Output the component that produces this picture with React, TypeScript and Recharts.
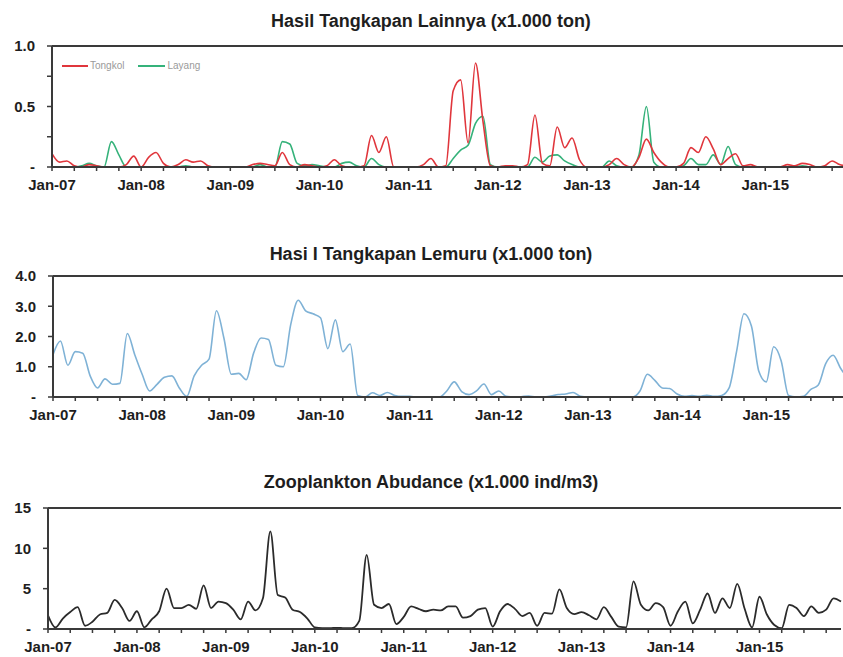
import { LineChart, Line, XAxis, YAxis, ReferenceLine } from 'recharts';

// monthly values, Jan-07 .. Dec-15
const years = ['07', '08', '09', '10', '11', '12', '13', '14', '15'];

const tongkol = [
  0.11, 0.04, 0.05, 0.01, 0, 0.02, 0.01, 0, 0, 0, 0.02, 0.09,
  0, 0.08, 0.12, 0.03, 0, 0.02, 0.06, 0.04, 0.05, 0.01, 0, 0,
  0, 0, 0, 0.02, 0.03, 0.02, 0.01, 0.12, 0.02, 0, 0.02, 0.01,
  0, 0.01, 0.06, 0.01, 0, 0, 0.01, 0.26, 0.12, 0.25, 0, 0,
  0, 0, 0.02, 0.07, 0, 0.01, 0.63, 0.72, 0.2, 0.86, 0.38, 0.01,
  0, 0.01, 0.01, 0, 0.02, 0.43, 0.03, 0.01, 0.33, 0.16, 0.24, 0.06,
  0, 0, 0, 0.02, 0.07, 0.02, 0, 0.08, 0.23, 0.12, 0.04, 0,
  0, 0.03, 0.16, 0.12, 0.25, 0.15, 0.02, 0.07, 0.11, 0.01, 0.02, 0,
  0, 0, 0, 0.02, 0.01, 0.03, 0.02, 0, 0.01, 0.05, 0.02, 0.01,
];

const layang = [
  0, 0, 0, 0, 0.01, 0.03, 0.01, 0, 0.21, 0.1, 0, 0,
  0, 0, 0, 0, 0, 0, 0.01, 0, 0, 0, 0, 0,
  0, 0, 0, 0, 0.02, 0, 0, 0.21, 0.19, 0.03, 0.01, 0.02,
  0.01, 0, 0, 0.03, 0.04, 0.01, 0, 0.07, 0.02, 0, 0, 0,
  0, 0, 0, 0, 0, 0, 0.07, 0.14, 0.18, 0.36, 0.42, 0.02,
  0, 0, 0, 0, 0, 0.08, 0.04, 0.09, 0.1, 0.05, 0.02, 0,
  0, 0, 0, 0.05, 0.01, 0, 0, 0.1, 0.5, 0.04, 0, 0,
  0, 0.01, 0.07, 0.02, 0.02, 0.1, 0.02, 0.17, 0.02, 0, 0, 0,
  0, 0, 0, 0, 0, 0.01, 0, 0, 0, 0, 0, 0,
];

const lemuru = [
  1.4, 1.85, 1.05, 1.5, 1.45, 0.7, 0.3, 0.6, 0.42, 0.45, 2.1, 1.4,
  0.75, 0.2, 0.42, 0.65, 0.7, 0.3, 0.02, 0.7, 1.05, 1.25, 2.85, 1.95,
  0.75, 0.78, 0.57, 1.45, 1.95, 1.9, 1.05, 1.0, 2.4, 3.2, 2.85, 2.75,
  2.62, 1.6, 2.55, 1.5, 1.75, 0.05, 0, 0.14, 0.05, 0.15, 0.05, 0.02,
  0.02, 0, 0, 0, 0, 0.2, 0.5, 0.18, 0.08, 0.2, 0.43, 0.08,
  0.2, 0.02, 0, 0.01, 0.03, 0, 0, 0.03, 0.08, 0.1, 0.15, 0.02,
  0, 0, 0, 0, 0, 0, 0, 0.2, 0.75, 0.55, 0.3, 0.28,
  0.1, 0.02, 0.05, 0.02, 0.06, 0.02, 0.05, 0.3, 1.5, 2.75, 2.35, 0.85,
  0.5, 1.66, 1.2, 0.05, 0, 0.02, 0.25, 0.4, 1.1, 1.38, 0.95, 0.6,
];

const zooplankton = [
  1.7, 0.2, 1.3, 2.1, 2.7, 0.4, 0.9, 1.8, 2.0, 3.6, 2.6, 1.0,
  2.2, 0.2, 1.2, 2.2, 5.0, 2.6, 2.6, 3.0, 2.5, 5.4, 2.6, 3.4,
  3.2, 2.4, 1.2, 3.4, 2.3, 3.8, 12.1, 4.2, 3.9, 2.4, 2.1, 1.3,
  0.2, 0.1, 0.1, 0.15, 0.1, 0.1, 1.0, 9.2, 3.0, 2.6, 3.1, 0.6,
  1.5, 2.8, 2.5, 2.2, 2.4, 2.3, 2.8, 2.8, 1.4, 1.6, 2.4, 2.6,
  0.3, 2.2, 3.1, 2.5, 1.6, 2.0, 0.4, 2.0, 1.9, 4.9, 2.6, 1.85,
  2.1, 1.7, 1.2, 2.7, 1.5, 0.3, 0.2, 5.9, 3.0, 2.3, 3.2, 2.7,
  0.4, 2.2, 3.4, 0.7, 2.4, 4.4, 2.0, 3.8, 2.6, 5.6, 2.5, 0.2,
  4.0, 1.8, 0.5, 0.1, 3.0, 2.6, 1.6, 2.8, 2.0, 2.4, 3.8, 3.4,
];

const rows = tongkol.map((v, i) => ({
  m: i,
  tongkol: v,
  layang: layang[i],
  lemuru: lemuru[i],
  zoo: zooplankton[i],
}));

const quarterTicks = Array.from({ length: 36 }, (_, i) => i * 3);
const xLabel = (m: number) => (m % 12 === 0 ? `Jan-${years[m / 12]}` : '');

const FONT = '"Liberation Sans", Arial, sans-serif';
const AXIS = '#3a3a3a';
const tickStyle = { fill: '#1e1e1e', fontSize: 15, fontWeight: 700, fontFamily: FONT };

type PanelProps = {
  top: number;
  plotTop: number;
  yWidth: number;
  right: number;
  max: number;
  yTicks: number[];
  yFmt: (v: number) => string;
  children: React.ReactNode;
};

function Panel({ top, plotTop, yWidth, right, max, yTicks, yFmt, children }: PanelProps) {
  return (
    <div style={{ position: 'absolute', top, left: 0 }}>
      <LineChart
        width={860}
        height={200}
        data={rows}
        margin={{ top: plotTop, right, bottom: 0, left: 0 }}
      >
        <XAxis
          dataKey="m"
          type="number"
          domain={[0, 107]}
          ticks={quarterTicks}
          tickFormatter={xLabel}
          interval={0}
          height={200 - plotTop - 121}
          tick={tickStyle}
          tickSize={4}
          tickMargin={8}
          axisLine={{ stroke: AXIS, strokeWidth: 2 }}
          tickLine={{ stroke: AXIS, strokeWidth: 1.5 }}
        />
        <YAxis
          type="number"
          domain={[0, max]}
          ticks={yTicks}
          interval={0}
          tickFormatter={yFmt}
          width={yWidth}
          tick={tickStyle}
          tickSize={5}
          tickMargin={12}
          axisLine={{ stroke: AXIS, strokeWidth: 2 }}
          tickLine={{ stroke: AXIS, strokeWidth: 1.5 }}
        />
        <ReferenceLine y={max} stroke={AXIS} strokeWidth={2} />
        {children}
      </LineChart>
    </div>
  );
}

const titleStyle = (top: number): React.CSSProperties => ({
  position: 'absolute',
  top,
  left: 0,
  width: 862,
  textAlign: 'center',
  fontFamily: FONT,
  fontWeight: 700,
  fontSize: 18,
  lineHeight: '20px',
  color: '#1e1e1e',
});

export default function App() {
  return (
    <div
      style={{
        position: 'absolute',
        left: 0,
        top: 0,
        width: 843,
        height: 657,
        overflow: 'hidden',
        background: '#fff',
      }}
    >
      <div style={titleStyle(11)}>Hasil Tangkapan Lainnya (x1.000 ton)</div>
      <Panel
        top={0}
        plotTop={46}
        yWidth={52}
        right={13}
        max={1}
        yTicks={[0, 0.25, 0.5, 0.75, 1]}
        yFmt={(v) => (v === 0 ? '-' : v === 0.5 ? '0.5' : v === 1 ? '1.0' : '')}
      >
        <Line type="monotone" dataKey="layang" stroke="#35b27a" strokeWidth={1.6} dot={false} isAnimationActive={false} />
        <Line type="monotone" dataKey="tongkol" stroke="#e0363c" strokeWidth={1.6} dot={false} isAnimationActive={false} />
      </Panel>
      <div style={{ position: 'absolute', top: 60, left: 62, display: 'flex', alignItems: 'center', fontFamily: FONT, fontSize: 10, color: '#9a9a9a' }}>
        <span style={{ width: 26, height: 2, background: '#e0363c', display: 'inline-block', marginRight: 2 }} />
        <span style={{ marginRight: 14 }}>Tongkol</span>
        <span style={{ width: 27, height: 2, background: '#35b27a', display: 'inline-block', marginRight: 2 }} />
        <span>Layang</span>
      </div>

      <div style={titleStyle(244)}>Hasi I Tangkapan Lemuru (x1.000 ton)</div>
      <Panel
        top={230}
        plotTop={46}
        yWidth={53}
        right={12}
        max={4}
        yTicks={[0, 1, 2, 3, 4]}
        yFmt={(v) => (v === 0 ? '-' : v.toFixed(1))}
      >
        <Line type="monotone" dataKey="lemuru" stroke="#7fb2d6" strokeWidth={1.6} dot={false} isAnimationActive={false} />
      </Panel>

      <div style={titleStyle(472)}>Zooplankton Abudance (x1.000 ind/m3)</div>
      <Panel
        top={460}
        plotTop={48}
        yWidth={48}
        right={19}
        max={15}
        yTicks={[0, 5, 10, 15]}
        yFmt={(v) => (v === 0 ? '-' : String(v))}
      >
        <Line type="monotone" dataKey="zoo" stroke="#2b2b2b" strokeWidth={1.8} dot={false} isAnimationActive={false} />
      </Panel>
    </div>
  );
}
